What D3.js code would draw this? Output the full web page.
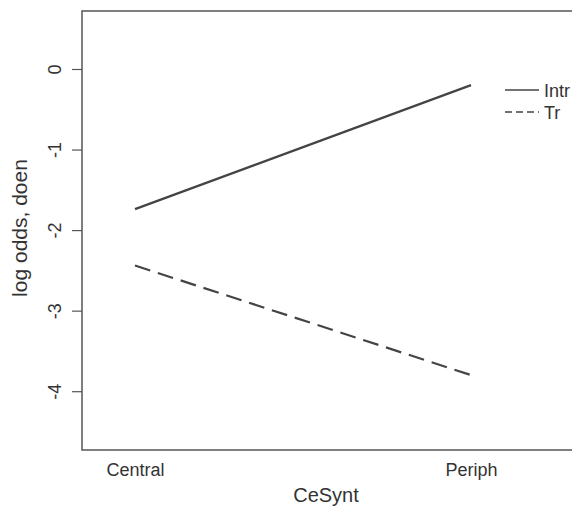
<!DOCTYPE html>
<html><head><meta charset="utf-8">
<script src="https://cdn.jsdelivr.net/npm/d3@7"></script>
<style>body{margin:0;background:#fff}svg{display:block}text{font-family:"Liberation Sans",Arial,sans-serif;fill:#333}</style>
</head><body><svg id="c" width="572" height="508"></svg>
<script>
const categories = ["Central", "Periph"];
const seriesNames = ["Intr", "Tr"];
const intrValues = [-1.74, -0.20];
const trValues = [-2.44, -3.80];
const yTicks = [0, -1, -2, -3, -4];
const xTitle = "CeSynt";
const yTitle = "log odds, doen";

(function () {
const svg = d3.select("#c");
const pLeft = 82, pTop = 11, pBottom = 450, pRight = 600;
const y = d3.scaleLinear().domain([0.72, -4.73]).range([pTop, pBottom]);
const x = d3.scalePoint().domain(categories).range([135, 471]);

svg.append("rect").attr("x", pLeft).attr("y", pTop).attr("width", pRight - pLeft).attr("height", pBottom - pTop)
  .attr("fill", "none").attr("stroke", "#555").attr("stroke-width", 1.5);

const yAxis = d3.axisLeft(y).tickValues(yTicks).tickSize(10).tickFormat(d => String(d));
const gy = svg.append("g").attr("transform", `translate(${pLeft},0)`).call(yAxis);
gy.select(".domain").remove();
gy.selectAll(".tick line").attr("stroke", "#555").attr("stroke-width", 1.2);
gy.selectAll(".tick text").attr("x", 0).attr("y", 0).attr("dy", 0).attr("text-anchor", "middle")
  .attr("transform", "translate(-21,0) rotate(-90)")
  .style("font-size", "18px").style("font-family", "Liberation Sans, Arial, sans-serif").attr("fill", "#333");

const xAxis = d3.axisBottom(x).tickSize(0);
const gx = svg.append("g").attr("transform", `translate(0,${pBottom})`).call(xAxis);
gx.select(".domain").remove();
gx.selectAll(".tick text").attr("y", 26).attr("dy", 0)
  .style("font-size", "18px").style("font-family", "Liberation Sans, Arial, sans-serif").attr("fill", "#333");

svg.append("text").attr("x", 326).attr("y", 502).attr("text-anchor", "middle").style("font-size", "20px").text(xTitle);
svg.append("text").attr("transform", "translate(27,228) rotate(-90)").attr("text-anchor", "middle").style("font-size", "21px").text(yTitle);

const line = d3.line().x((d, i) => x(categories[i])).y(d => y(d));
svg.append("path").datum(intrValues).attr("d", line).attr("fill", "none").attr("stroke", "#444").attr("stroke-width", 2.2);
svg.append("path").datum(trValues).attr("d", line).attr("fill", "none").attr("stroke", "#444").attr("stroke-width", 2.2).attr("stroke-dasharray", "16,8");

const legY = [90, 112];
const dashes = [null, "7,4"];
seriesNames.forEach((s, i) => {
  svg.append("line").attr("x1", 505).attr("x2", 539).attr("y1", legY[i]).attr("y2", legY[i])
    .attr("stroke", "#444").attr("stroke-width", 1.3).attr("stroke-dasharray", dashes[i]);
  svg.append("text").attr("x", 544).attr("y", legY[i] + 7).style("font-size", "18px").text(s);
});
})();
</script></body></html>
